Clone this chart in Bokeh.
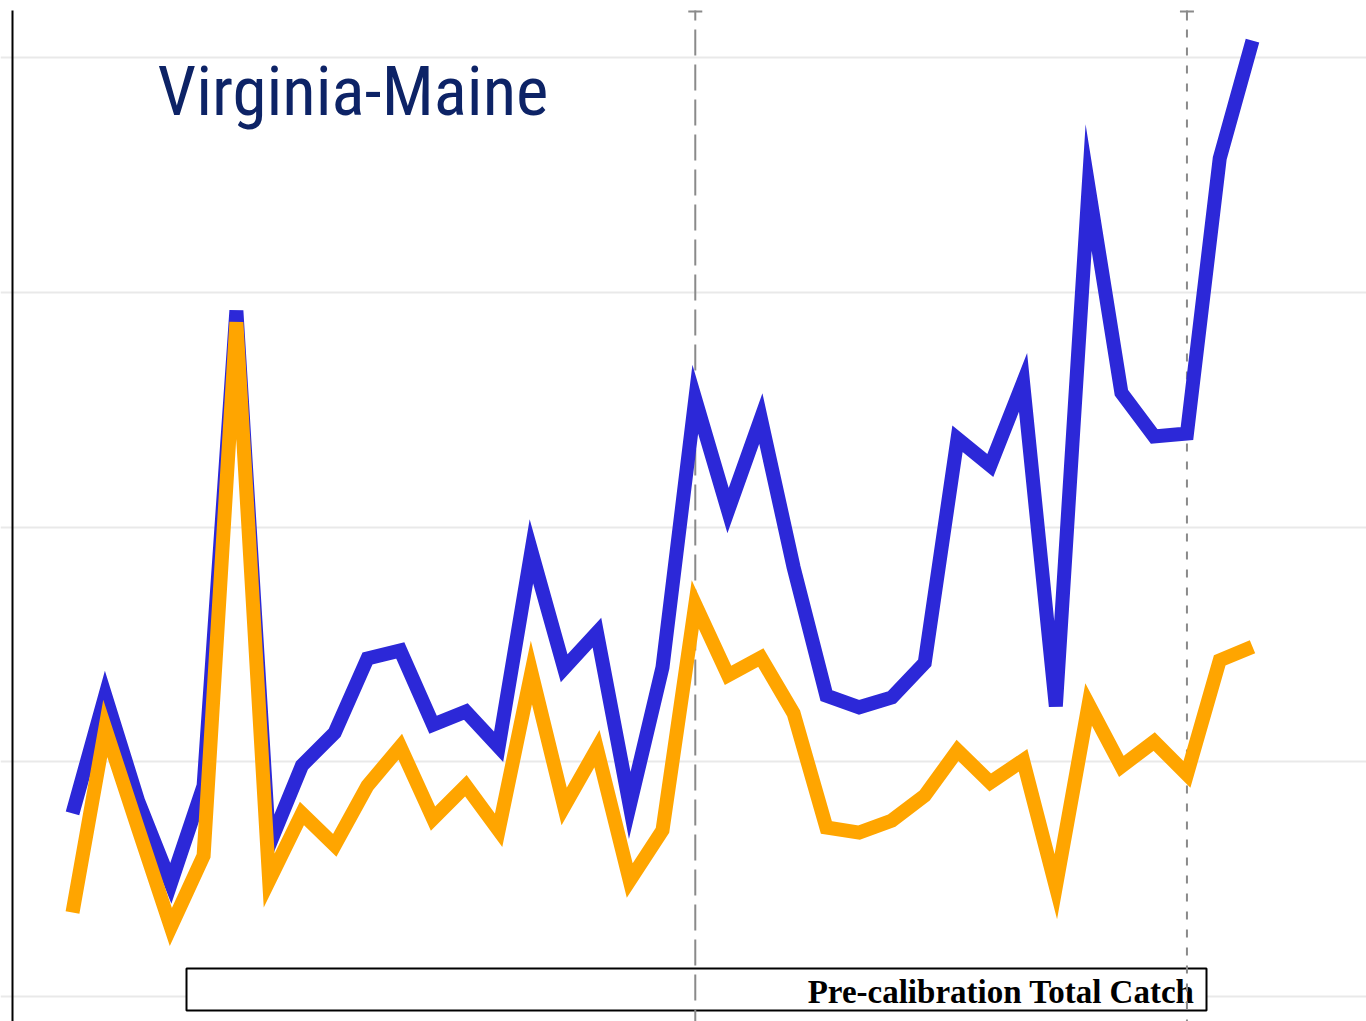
from bokeh.plotting import figure
from bokeh.models import Label, BoxAnnotation, FixedTicker
from bokeh.embed import file_html
from bokeh.resources import INLINE

# ---------------- data ----------------
years = list(range(1981, 2018))
total_catch_blue = [3.90, 6.41, 4.17, 2.41, 4.49, 14.61, 3.22, 4.92, 5.62, 7.20,
                    7.37, 5.79, 6.07, 5.32, 9.48, 6.99, 7.75, 4.07, 7.01, 12.72,
                    10.35, 12.31, 9.14, 6.41, 6.16, 6.37, 7.11, 11.88, 11.31, 13.08,
                    6.18, 17.23, 12.86, 11.93, 11.99, 17.85, 20.36]
total_catch_orange = [1.79, 5.71, 3.58, 1.48, 3.00, 14.36, 2.47, 3.90, 3.22, 4.49,
                      5.32, 3.79, 4.49, 3.54, 6.90, 4.05, 5.28, 2.47, 3.54, 8.35,
                      6.84, 7.22, 6.03, 3.60, 3.49, 3.75, 4.28, 5.24, 4.56, 5.03,
                      2.34, 6.22, 4.90, 5.43, 4.73, 7.16, 7.45]
grid_ticks = [0, 5, 10, 15, 20]
break_year_long = 2000
break_year_short = 2015
title_text = "Virginia-Maine"
box_text = "Pre-calibration Total Catch"

# ---------------- layout helpers (page pixel -> data) ----------------
W, H = 1366, 1021
OFF = 0
PX_PER_YEAR = 1180 / 36.0
PX_PER_UNIT = (996 - 57) / 20.0
X_START = years[0] - (72 - OFF) / PX_PER_YEAR
X_END = X_START + W / PX_PER_YEAR
Y_TOP = 20 + (57 - OFF) / PX_PER_UNIT
Y_BOTTOM = Y_TOP - H / PX_PER_UNIT


def xd(page_x):
    return X_START + (page_x - OFF) / PX_PER_YEAR


def yd(page_y):
    return Y_TOP - (page_y - OFF) / PX_PER_UNIT


p = figure(width=W, height=H, x_range=(X_START, X_END), y_range=(Y_BOTTOM, Y_TOP),
           output_backend="svg", toolbar_location=None, min_border=0,
           background_fill_color="white", border_fill_color="white")
p.outline_line_color = None
p.xaxis.visible = False
p.yaxis.visible = False
p.xgrid.visible = False
p.ygrid.ticker = FixedTicker(ticks=grid_ticks)
p.ygrid.grid_line_color = "#e9e9e9"
p.ygrid.grid_line_width = 2

# left axis line
p.segment(x0=[xd(12)], y0=[yd(10)], x1=[xd(12)], y1=[Y_BOTTOM], line_color="black", line_width=2)

# legend-like box with text (under the dashed lines)
box = BoxAnnotation(left=xd(186), right=xd(1206), top=yd(968), bottom=yd(1010),
                    fill_color="white", fill_alpha=1, line_color="black", line_alpha=1,
                    line_width=2, level="underlay")
p.add_layout(box)
p.add_layout(Label(x=xd(1194), y=yd(991), text=box_text, text_align="right",
                   text_baseline="alphabetic", text_font="Liberation Serif",
                   text_font_style="bold", text_font_size="33px", text_color="black",
                   level="underlay"))

# vertical reference lines
gray = "#8a8a8a"
p.segment(x0=[break_year_long], y0=[yd(20)], x1=[break_year_long], y1=[Y_BOTTOM],
          line_color=gray, line_width=2, line_dash="26 9", line_dash_offset=26)
p.segment(x0=[break_year_short], y0=[yd(20)], x1=[break_year_short], y1=[Y_BOTTOM],
          line_color=gray, line_width=2, line_dash="8 10", line_dash_offset=9)
p.segment(x0=[break_year_long, break_year_short], y0=[yd(20)] * 2,
          x1=[break_year_long, break_year_short], y1=[yd(10)] * 2,
          line_color=gray, line_width=2)
p.scatter(x=[break_year_long, break_year_short], y=[yd(11)] * 2, marker="dash", size=14,
          line_color=gray, line_width=2)

# data lines
p.line(years, total_catch_blue, line_color="#2c28d8", line_width=14, line_join="miter")
p.line(years, total_catch_orange, line_color="#ffa500", line_width=14, line_join="miter")

# title
p.add_layout(Label(x=xd(157), y=yd(91), text=title_text, text_align="left",
                   text_baseline="alphabetic",
                   text_font="'Roboto Condensed', 'Noto Sans Condensed', 'DejaVu Sans Condensed', 'Liberation Sans', sans-serif",
                   text_font_size="69px", text_color="#0d2366"))

open("out.html", "w").write(file_html(p, INLINE))
